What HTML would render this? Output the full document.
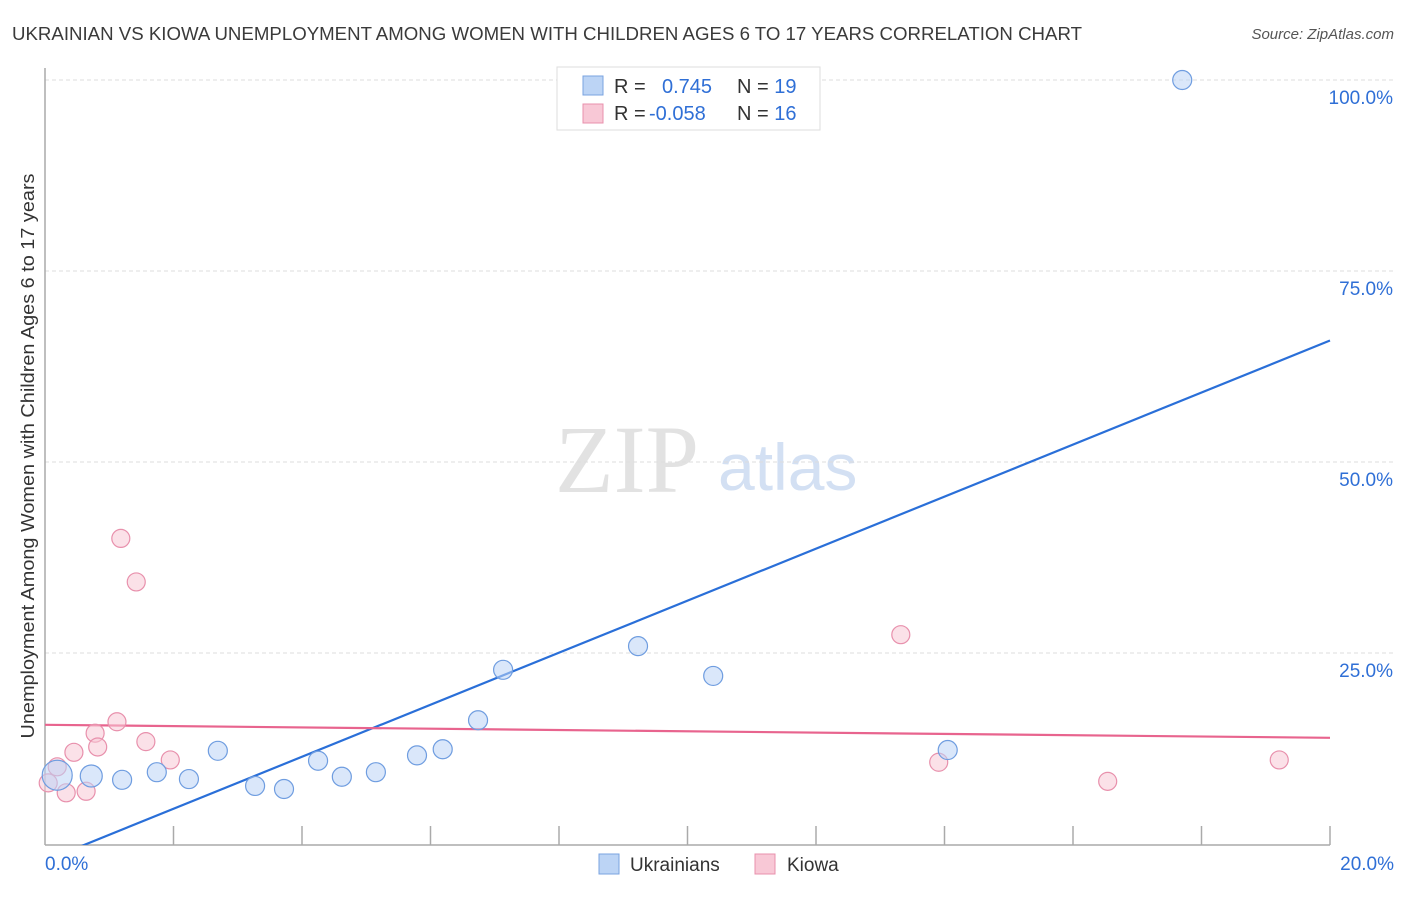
<!DOCTYPE html>
<html><head><meta charset="utf-8"><style>
body{margin:0;background:#fff;font-family:"Liberation Sans",sans-serif;}
svg text{font-family:"Liberation Sans",sans-serif;}
</style></head><body>
<svg id="chart" width="1406" height="892">
<text x="12" y="40" font-size="18" fill="#3a3a3a" textLength="1070" lengthAdjust="spacingAndGlyphs">UKRAINIAN VS KIOWA UNEMPLOYMENT AMONG WOMEN WITH CHILDREN AGES 6 TO 17 YEARS CORRELATION CHART</text>
<text x="1394" y="39" font-size="15" fill="#555" font-style="italic" text-anchor="end">Source: ZipAtlas.com</text>
<text x="555" y="492" font-size="96" fill="#e2e2e2" style="font-family:'Liberation Serif',serif">ZIP</text>
<text x="718" y="490" font-size="66" fill="#d3e0f3">atlas</text>
<text transform="translate(34,456) rotate(-90)" font-size="18" fill="#333" text-anchor="middle" textLength="565" lengthAdjust="spacingAndGlyphs">Unemployment Among Women with Children Ages 6 to 17 years</text>
<g id="grid"></g><g id="lines"></g><g id="pts"></g>
<g>
<rect x="557" y="67" width="263" height="63" fill="#fff" stroke="#ddd"/>
<rect x="583" y="76" width="20" height="19" fill="#bcd4f5" stroke="#7aa3e0"/>
<rect x="583" y="104" width="20" height="19" fill="#f8c8d6" stroke="#e890ac"/>
<text x="614" y="93" font-size="20" fill="#333">R = <tspan x="662" fill="#2f6fd6">0.745</tspan><tspan x="737" fill="#333">N = </tspan><tspan fill="#2f6fd6">19</tspan></text>
<text x="614" y="120" font-size="20" fill="#333">R = <tspan x="649" fill="#2f6fd6">-0.058</tspan><tspan x="737" fill="#333">N = </tspan><tspan fill="#2f6fd6">16</tspan></text>
</g>
<g>
<rect x="599" y="854" width="20" height="20" fill="#bcd4f5" stroke="#7aa3e0"/>
<text x="630" y="871" font-size="19" fill="#333">Ukrainians</text>
<rect x="755" y="854" width="20" height="20" fill="#f8c8d6" stroke="#e890ac"/>
<text x="787" y="871" font-size="19" fill="#333">Kiowa</text>
</g>
</svg>
<script>
const ukrX=[0.19,0.72,1.20,1.74,2.24,2.69,3.27,3.72,4.25,4.62,5.15,5.79,6.19,6.74,7.13,9.23,10.40,14.05,17.70];
const ukrY=[9.0,8.9,8.4,9.4,8.5,12.2,7.6,7.2,10.9,8.8,9.4,11.6,12.4,16.2,22.8,25.9,22.0,12.3,100];
const ukrR=[15,11,9.5,9.5,9.5,9.5,9.5,9.5,9.5,9.5,9.5,9.5,9.5,9.5,9.5,9.5,9.5,9.5,9.5];
const kioX=[0.05,0.19,0.33,0.45,0.64,0.78,0.82,1.12,1.18,1.42,1.57,1.95,13.32,13.91,16.54,19.21];
const kioY=[8.0,10.1,6.7,12.0,6.9,14.5,12.7,16.0,40.0,34.3,13.4,11.0,27.4,10.7,8.2,11.0];
const ukrTrend=[-2.2,65.9];
const kioTrend=[15.6,13.9];
const yTicks=[25,50,75,100];
const xTickLabels=["0.0%","20.0%"];
const NS="http://www.w3.org/2000/svg";
const X=v=>45+v*64.25, Y=v=>844-v*7.64;
function mk(tag,attrs,parent){const e=document.createElementNS(NS,tag);for(const k in attrs)e.setAttribute(k,attrs[k]);document.getElementById(parent).appendChild(e);return e;}
yTicks.forEach(t=>{
 const l=mk('line',{x1:45,x2:1394,y1:Y(t),y2:Y(t),stroke:'#ddd','stroke-dasharray':'4,3'},'grid');
 
 
 const tx=mk('text',{x:1393,y:Y(t)+24,'font-size':19,fill:'#2f6fd6','text-anchor':'end'},'grid');
 tx.textContent=t.toFixed(1)+'%';
 
 
});
const ax=mk('line',{x1:45,x2:1330,y1:845,y2:845,stroke:'#aaa','stroke-width':1.5},'grid');


const ay=mk('line',{x1:45,x2:45,y1:68,y2:845,stroke:'#aaa','stroke-width':1.5},'grid');


for(let i=1;i<=10;i++){const tk=mk('line',{x1:X(i*2),x2:X(i*2),y1:826,y2:845,stroke:'#aaa','stroke-width':1.5},'grid');
 
 }
[[0,'start',45],[20,'end',1394]].forEach((d,i)=>{const t=mk('text',{x:d[2],y:870,'font-size':19,fill:'#2f6fd6','text-anchor':d[1]},'grid');t.textContent=xTickLabels[i];
 
 });
function pts(xs,ys,rs,fill,stroke,name){xs.forEach((x,i)=>{const c=mk('circle',{cx:X(x),cy:Y(ys[i]),r:rs?rs[i]:9,fill:fill,'fill-opacity':0.55,stroke:stroke,'stroke-width':1.2},'pts');
 
 });}
pts(kioX,kioY,null,'#f8c8d6','#e890ac','kiowa-point');
pts(ukrX,ukrY,ukrR,'#bcd4f5','#6f9de0','ukrainian-point');
const bl=mk('line',{x1:X(0),y1:Y(ukrTrend[0]),x2:X(20),y2:Y(ukrTrend[1]),stroke:'#2a6fd8','stroke-width':2.2},'lines');


const pl=mk('line',{x1:X(0),y1:Y(kioTrend[0]),x2:X(20),y2:Y(kioTrend[1]),stroke:'#e8648e','stroke-width':2.2},'lines');


document.getElementById('lines').setAttribute('clip-path','url(#clip)');
const cp=mk('clipPath',{id:'clip'},'chart');const r=document.createElementNS(NS,'rect');r.setAttribute('x',45);r.setAttribute('y',60);r.setAttribute('width',1300);r.setAttribute('height',785);cp.appendChild(r);
</script>
</body></html>
